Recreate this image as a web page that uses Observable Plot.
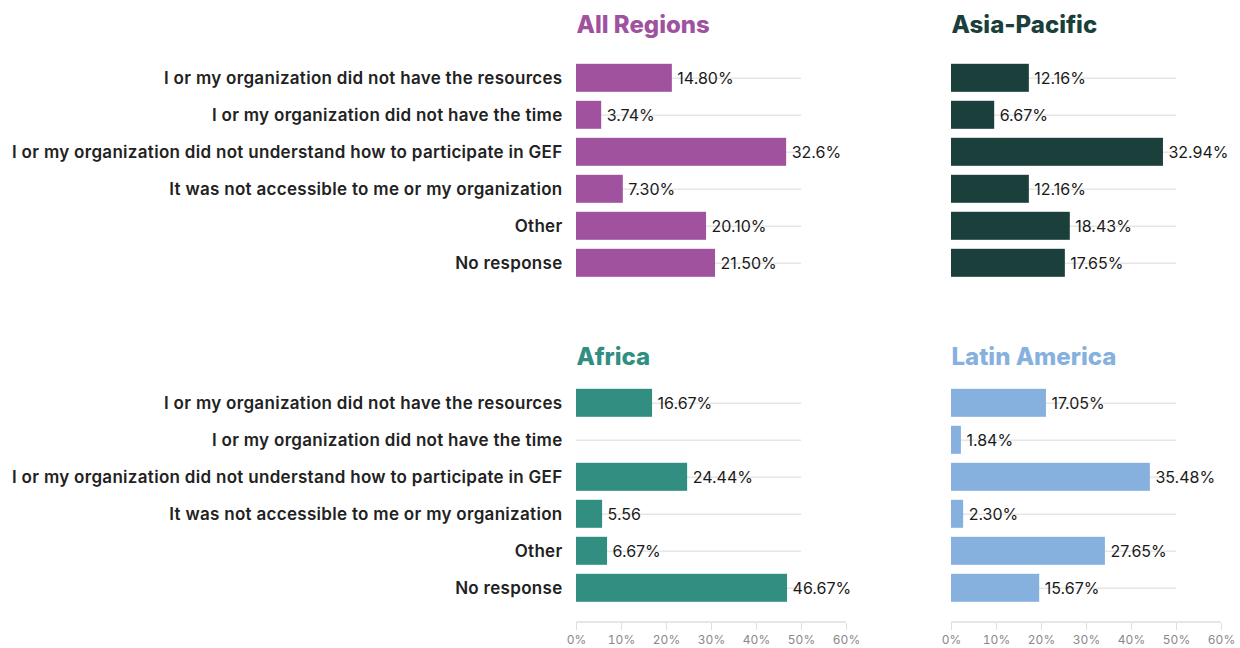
<!DOCTYPE html>
<html>
<head>
<meta charset="utf-8">
<script src="https://cdn.jsdelivr.net/npm/d3@7"></script>
<script src="https://cdn.jsdelivr.net/npm/@observablehq/plot@0.6"></script>
<style>
  html, body { margin: 0; padding: 0; background: #fff; }
  #chart { width: 1240px; height: 648px; }
  #chart g[aria-label="y-axis tick label"] text { letter-spacing: 0.3px; }
</style>
</head>
<body>
<div id="chart"></div>
<script>
// ---- data ----
const categories = [
  "I or my organization did not have the resources",
  "I or my organization did not have the time",
  "I or my organization did not understand how to participate in GEF",
  "It was not accessible to me or my organization",
  "Other",
  "No response"
];
const regions = ["All Regions", "Asia-Pacific", "Africa", "Latin America"];
const regionColors = ["#A0529E", "#1B3F3B", "#318E81", "#86B1DF"];

// value labels as printed on the chart
const allRegionsLabels = ["14.80%", "3.74%", "32.6%", "7.30%", "20.10%", "21.50%"];
const asiaPacificLabels = ["12.16%", "6.67%", "32.94%", "12.16%", "18.43%", "17.65%"];
const africaLabels = ["16.67%", "", "24.44%", "5.56", "6.67%", "46.67%"];
const latinAmericaLabels = ["17.05%", "1.84%", "35.48%", "2.30%", "27.65%", "15.67%"];

// bar lengths as drawn against the 0–60% axis
const allRegionsBars = [21.3, 5.6, 46.7, 10.4, 28.9, 30.9];
const asiaPacificBars = [17.3, 9.6, 47.1, 17.3, 26.4, 25.3];
const africaBars = [16.9, null, 24.7, 5.8, 6.9, 46.9];
const latinAmericaBars = [21.1, 2.2, 44.2, 2.7, 34.2, 19.6];

const xTicks = [0, 10, 20, 30, 40, 50, 60];

// facet layout (which panel each region occupies)
const panelCol = ["left", "right", "left", "right"];
const panelRow = ["top", "top", "bottom", "bottom"];

const barsByRegion = [allRegionsBars, asiaPacificBars, africaBars, latinAmericaBars];
const labelsByRegion = [allRegionsLabels, asiaPacificLabels, africaLabels, latinAmericaLabels];

const rows = [];
regions.forEach((r, ri) => {
  categories.forEach((c, ci) => {
    const v = barsByRegion[ri][ci];
    if (v == null) return;
    rows.push({region: r, fx: panelCol[ri], fy: panelRow[ri], cat: c, value: v,
               label: labelsByRegion[ri][ci], color: regionColors[ri]});
  });
});
const titles = regions.map((r, i) => ({title: r, fx: panelCol[i], fy: panelRow[i], color: regionColors[i]}));
const bottomPanels = [{fx: "left", fy: "bottom"}, {fx: "right", fy: "bottom"}];

const chart = Plot.plot({
  width: 1240,
  height: 648,
  marginLeft: 575,
  marginRight: 19,
  marginTop: 57.2,
  marginBottom: 25.2,
  style: {fontFamily: "Inter, 'Open Sans', sans-serif", background: "#fff"},
  fx: {domain: ["left", "right"], paddingInner: 0.28, paddingOuter: 0, axis: null},
  fy: {domain: ["top", "bottom"], paddingInner: 0.2597, paddingOuter: 0, axis: null},
  x: {domain: [0, 60]},
  y: {domain: categories, paddingInner: 0.255, paddingOuter: 0.1275, insetBottom: 15},
  marks: [
    Plot.ruleY(categories, {y: d => d, x1: 0, x2: 50, stroke: "#e6e6e6", strokeWidth: 1.5}),
    Plot.ruleY(bottomPanels, {fx: "fx", fy: "fy", y: () => categories[5], x1: 0, x2: 60,
      dy: 33.8, stroke: "#dedede", strokeWidth: 1.5}),
    Plot.barX(rows, {fx: "fx", fy: "fy", y: "cat", x: "value", fill: "color"}),
    Plot.text(rows, {fx: "fx", fy: "fy", y: "cat", x: "value", text: "label", textAnchor: "start",
      dx: 5, dy: 0.5, fontSize: 16, fill: "#1a1a1a"}),
    Plot.text(titles.filter(d => d.fy === "top"), {fx: "fx", fy: "fy", text: "title", fill: "color",
      frameAnchor: "top-left", dy: -42, fontSize: 24, fontWeight: 800}),
    Plot.text(titles.filter(d => d.fy === "bottom"), {fx: "fx", fy: "fy", text: "title", fill: "color",
      frameAnchor: "top-left", dy: -35, fontSize: 24, fontWeight: 800}),
    Plot.axisY({anchor: "left", tickSize: 0, tickPadding: 14, fontSize: 17, fontWeight: 600,
      fill: "#222", label: null}),
    Plot.axisX({ticks: xTicks, tickFormat: d => d + "%", tickSize: 7, tickPadding: 5,
      stroke: "#dedede", fill: "#888", fontSize: 12, label: null})
  ]
});
document.getElementById("chart").appendChild(chart);
</script>
</body>
</html>
